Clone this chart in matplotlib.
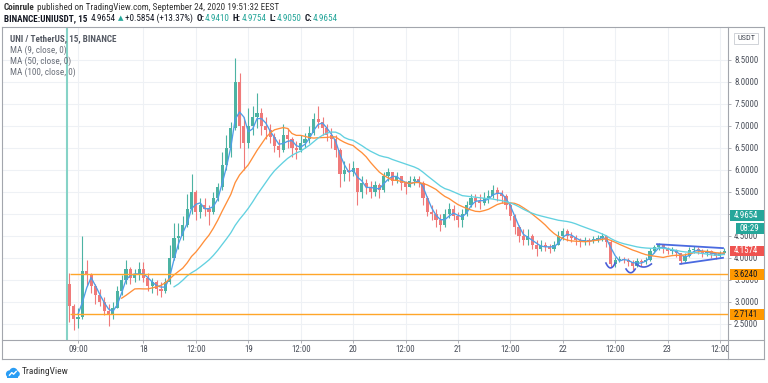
import matplotlib
matplotlib.use("Agg")
import matplotlib.pyplot as plt
import matplotlib.transforms as mtransforms
from matplotlib.patches import Rectangle, Circle
from matplotlib.lines import Line2D
from matplotlib import font_manager
import numpy as np
import pandas as pd

W, H = 768, 383
names = {f.name for f in font_manager.fontManager.ttflist}
narrow_candidates = ['Liberation Sans Narrow', 'Roboto Condensed', 'Open Sans Condensed',
                     'Arial Narrow', 'DejaVu Sans Condensed']
NARROW = next((n for n in narrow_candidates if n in names), None)
FONT = [NARROW, 'DejaVu Sans'] if NARROW else ['DejaVu Sans']
plt.rcParams['font.family'] = FONT
if not NARROW:
    plt.rcParams['font.stretch'] = 'condensed'
FS = 6.6 if NARROW else 5.7
FS_AX = 6.4 if NARROW else 5.4

# ---------------- data (hourly candles, hours since Sep 17 00:00) ----------------
start_hour = 7
first_open = 3.40
close = [
    # Sep 17
    2.90, 2.60, 2.65, 3.70, 3.60, 3.35, 3.15, 3.00, 2.80, 2.70, 2.85, 3.25, 3.50, 3.75, 3.55, 3.60, 3.75,
    # Sep 18
    3.55, 3.35, 3.45, 3.30, 3.25, 3.45, 4.00, 4.45, 4.50, 4.75, 5.10, 5.50, 5.05, 5.20, 5.10, 5.05,
    5.35, 5.60, 6.10, 6.50, 6.95, 8.00, 7.00, 6.60,
    # Sep 19
    7.00, 7.20, 7.30, 7.00, 6.90, 6.75, 6.55, 6.45, 6.80, 6.70, 6.50, 6.45, 6.60, 6.70, 6.85, 7.15,
    7.10, 6.95, 6.80, 6.70, 6.45, 5.90, 6.00, 5.95,
    # Sep 20
    6.05, 5.50, 5.70, 5.60, 5.50, 5.65, 5.55, 5.85, 5.95, 5.75, 5.85, 5.70, 5.60, 5.75, 5.80, 5.70,
    5.35, 5.05, 5.00, 4.85, 4.75, 5.00, 5.10, 4.95,
    # Sep 21
    4.85, 5.00, 5.20, 5.35, 5.30, 5.25, 5.35, 5.40, 5.55, 5.45, 5.40, 5.20, 4.95, 4.70, 4.50, 4.40,
    4.50, 4.30, 4.20, 4.30, 4.25, 4.20, 4.30, 4.50,
    # Sep 22
    4.60, 4.50, 4.45, 4.40, 4.35, 4.40, 4.38, 4.42, 4.45, 4.50, 4.35, 3.85, 3.95, 3.98, 3.95, 3.90,
    3.82, 3.92, 3.90, 3.95, 4.15, 4.25, 4.28, 4.20,
    # Sep 23
    4.15, 4.18, 4.10, 3.92, 4.05, 4.18, 4.20, 4.15, 4.10, 4.15, 4.08, 4.05, 4.10, 4.16,
]
high = [
    3.65, 2.95, 2.85, 4.50, 3.95, 3.65, 3.40, 3.30, 3.10, 2.95, 3.00, 3.35, 3.60, 3.95, 3.80, 3.75, 3.90,
    3.90, 3.65, 3.55, 3.50, 3.45, 3.55, 4.30, 4.80, 4.80, 4.95, 5.45, 5.90, 5.55, 5.35, 5.35, 5.20,
    5.50, 5.70, 6.40, 6.80, 7.10, 8.55, 8.20, 7.20,
    7.40, 7.45, 7.75, 7.40, 7.20, 7.05, 6.85, 6.70, 7.05, 6.95, 6.75, 6.65, 6.80, 6.85, 7.00, 7.30,
    7.45, 7.20, 7.05, 6.95, 6.80, 6.50, 6.20, 6.15,
    6.20, 6.05, 5.85, 5.80, 5.75, 5.75, 5.70, 5.95, 6.05, 5.95, 5.95, 5.85, 5.75, 5.85, 5.85, 5.85,
    5.75, 5.40, 5.20, 5.10, 5.00, 5.10, 5.25, 5.20,
    5.05, 5.10, 5.30, 5.45, 5.45, 5.45, 5.50, 5.55, 5.66, 5.60, 5.55, 5.45, 5.25, 5.00, 4.75, 4.65,
    4.65, 4.55, 4.40, 4.40, 4.35, 4.32, 4.38, 4.60,
    4.68, 4.65, 4.58, 4.52, 4.45, 4.48, 4.46, 4.50, 4.52, 4.56, 4.52, 4.40, 4.02, 4.05, 4.02, 4.00,
    3.95, 4.00, 3.98, 4.02, 4.22, 4.30, 4.34, 4.30,
    4.25, 4.24, 4.20, 4.12, 4.12, 4.25, 4.26, 4.24, 4.20, 4.20, 4.18, 4.12, 4.16, 4.22,
]
low = [
    2.55, 2.35, 2.40, 2.60, 3.35, 3.20, 2.95, 2.90, 2.70, 2.45, 2.60, 2.85, 3.15, 3.40, 3.40, 3.45, 3.50,
    3.45, 3.25, 3.20, 3.15, 3.10, 3.20, 3.40, 3.95, 4.20, 4.40, 4.70, 5.00, 4.85, 4.90, 4.95, 4.75,
    5.00, 5.30, 5.55, 6.00, 6.30, 6.90, 6.50, 6.00,
    6.50, 6.80, 6.95, 6.80, 6.70, 6.60, 6.40, 6.30, 6.40, 6.50, 6.30, 6.25, 6.40, 6.50, 6.60, 6.80,
    6.95, 6.80, 6.65, 6.50, 6.30, 5.60, 5.75, 5.75,
    5.85, 5.20, 5.35, 5.45, 5.35, 5.40, 5.35, 5.50, 5.75, 5.65, 5.70, 5.55, 5.45, 5.60, 5.65, 5.60,
    5.20, 4.95, 4.85, 4.70, 4.62, 4.70, 4.90, 4.85,
    4.70, 4.70, 4.95, 5.15, 5.15, 5.10, 5.20, 5.25, 5.35, 5.30, 5.25, 5.10, 4.85, 4.55, 4.35, 4.30,
    4.30, 4.20, 4.05, 4.15, 4.15, 4.12, 4.15, 4.28,
    4.40, 4.38, 4.35, 4.30, 4.25, 4.30, 4.30, 4.33, 4.35, 4.38, 4.25, 3.78, 3.80, 3.90, 3.88, 3.82,
    3.72, 3.80, 3.82, 3.85, 3.92, 4.10, 4.18, 4.12,
    4.08, 4.08, 4.02, 3.86, 3.90, 4.02, 4.10, 4.08, 4.02, 4.05, 4.00, 3.98, 4.02, 4.08,
]
# moving-average windows expressed in hourly bars (MA 9/50/100 of 15-minute bars)
ma_windows = [3, 13, 25]
ma_names = ["MA (9, close, 0)", "MA (50, close, 0)", "MA (100, close, 0)"]

time_ticks = [9, 24, 36, 48, 60, 72, 84, 96, 108, 120, 132, 144, 156]
time_labels = ["09:00", "18", "12:00", "19", "12:00", "20", "12:00", "21", "12:00", "22", "12:00", "23", "12:00"]
price_ticks = [2.5, 3.0, 3.5, 4.0, 4.5, 5.0, 5.5, 6.0, 6.5, 7.0, 7.5, 8.0, 8.5]
support_levels = [3.6240, 2.7141]
last_price = 4.9654
visible_close = 4.1574
listing_hour = 6.5
# drawings on the chart (hour, price)
triangle_upper = ([141.6, 156.7], [4.31, 4.22])
triangle_lower = ([146.9, 156.7], [3.86, 4.00])
arcs = [(129.9, 132.0, 3.88, 3.77), (134.5, 136.6, 3.745, 3.66), (136.8, 140.3, 3.86, 3.79)]

# ---------------- figure ----------------
UP, DOWN = "#4cb3a3", "#ef7a7a"
GRID = "#eef1f5"
FRAME = "#a3a6ad"
TXT = "#4a4f5a"

fig = plt.figure(figsize=(W / 100, H / 100), dpi=100)
fig.patch.set_facecolor("white")
renderer = fig.canvas.get_renderer()

def fx(x): return x / W
def fy(y): return 1 - y / H

L, R, T, B = 2, 728, 27, 340
ax = fig.add_axes([fx(L), fy(B), (R - L) / W, (B - T) / H])
ax.set_xlim(-8.4, 157.85)
ax.set_ylim(2.13, 9.25)
for s in ax.spines.values():
    s.set_visible(False)

ax.set_yticks(price_ticks)
ax.set_yticklabels([f"{p:.4f}" for p in price_ticks])
ax.yaxis.tick_right()
ax.set_xticks(time_ticks)
ax.set_xticklabels(time_labels)
ax.tick_params(axis="y", length=2.2, width=0.6, color=FRAME, labelsize=FS_AX, labelcolor=TXT, pad=2.2)
ax.tick_params(axis="x", length=2.2, width=0.6, color=FRAME, labelsize=FS_AX, labelcolor=TXT, pad=1.6)
ax.grid(True, color=GRID, lw=0.8, zorder=0)
ax.set_axisbelow(True)
clipbox = mtransforms.TransformedBbox(mtransforms.Bbox([[0, 0], [fx(R), 1]]), fig.transFigure)
for lbl in ax.get_xticklabels():
    lbl.set_clip_on(True)
    lbl.set_clip_box(clipbox)

times = np.arange(start_hour, start_hour + len(close))
opens = np.array([first_open] + close[:-1])
c = np.array(close)
up = c >= opens
cols = np.where(up, UP, DOWN)
ax.vlines(times, low, high, colors=cols, lw=0.8, zorder=2)
body = np.where(np.abs(c - opens) < 0.01, 0.01, c - opens)
ax.bar(times, body, bottom=opens, width=0.72, color=cols, lw=0, zorder=3)

s = pd.Series(close, index=times)
for w, col in zip(ma_windows, ["#4f9de8", "#ff8f3a", "#62d1e0"]):
    m = s.rolling(w).mean()
    ax.plot(m.index, m.values, color=col, lw=0.95, zorder=4)

ax.axvline(listing_hour, color="#86d3c7", lw=1.5, zorder=5)
ax.hlines(support_levels, 7.2, 157.85, color="#ffa629", lw=1.0, zorder=5)

ax.plot(*triangle_upper, color="#4a6ae0", lw=1.3, zorder=6)
ax.plot(*triangle_lower, color="#4a6ae0", lw=1.3, zorder=6)
for t0, t1, ptop, pbot in arcs:
    ts = np.linspace(t0, t1, 25)
    mid, half = (t0 + t1) / 2, (t1 - t0) / 2
    ax.plot(ts, pbot + (ptop - pbot) * ((ts - mid) / half) ** 2, color="#4a5fd8", lw=1.2, zorder=6)

# ---------------- frame ----------------
def fline(x0, y0, x1, y1, **kw):
    fig.add_artist(Line2D([fx(x0), fx(x1)], [fy(y0), fy(y1)], transform=fig.transFigure, **kw))

for seg in [(2, 27, 764, 27), (2, 359, 764, 359), (2, 27, 2, 359), (764, 27, 764, 359),
            (728, 27, 728, 359), (2, 340, 764, 340)]:
    fline(*seg, color=FRAME, lw=0.8)

# ---------------- price-axis boxes ----------------
bt = mtransforms.blended_transform_factory(fig.transFigure, ax.transData)
ppu = (B - T) / (ax.get_ylim()[1] - ax.get_ylim()[0])

def price_box(p, text, fc, tc, x0=730, dy_px=0.0):
    h = 10.5 / ppu
    pc = p - dy_px / ppu
    fig.add_artist(Rectangle((fx(x0), pc - h / 2), (764 - x0) / W, h, transform=bt,
                             facecolor=fc, edgecolor="none", clip_on=False, zorder=10))
    fig.text(fx(x0 + 4), pc, text, transform=bt, color=tc, fontsize=FS_AX, va="center", ha="left", zorder=11)

price_box(last_price, "4.9654", "#26a69a", "white")
price_box(last_price, "08:29", "#26a69a", "white", x0=736, dy_px=13)
price_box(visible_close, "4.1574", "#ef5350", "white")
for lvl in support_levels:
    price_box(lvl, f"{lvl:.4f}", "#ff9800", "#131722")

fig.add_artist(Rectangle((fx(734), fy(44)), 24 / W, 11 / H, transform=fig.transFigure,
                         facecolor="white", edgecolor="#c9ccd2", lw=0.6))
fig.text(fx(746), fy(38.5), "USDT", fontsize=FS_AX - 0.4, color=TXT, ha="center", va="center")

# ---------------- header ----------------
def ftext(x, y, s, **kw):
    kw.setdefault("fontsize", FS)
    kw.setdefault("color", "#333333")
    return fig.text(fx(x), fy(y), s, va="center", ha="left", **kw)

def run(x, y, pieces):
    """Lay text pieces left-to-right; each piece is (text, gap_after_px, kwargs)."""
    for txt, gap, kw in pieces:
        t = ftext(x, y, txt, **kw)
        bb = t.get_window_extent(renderer)
        x = bb.x1 + gap

GREEN = "#26a69a"
DARK = "#131722"
run(4, 7, [("Coinrule", 2.5, dict(fontweight="bold")),
           ("published on TradingView.com, September 24, 2020 19:51:32 EEST", 0, {})])
line2 = [("BINANCE:UNIUSDT, 15", 3.5, dict(fontweight="bold", color=DARK)),
         ("4.9654", 2, dict(color=DARK)),
         ("\u25B2", 2, dict(color=GREEN, fontsize=FS - 1.5, family=["DejaVu Sans"])),
         ("+0.5854 (+13.37%)", 3, dict(color=DARK))]
for lab, val in [("O:", "4.9410"), ("H:", "4.9754"), ("L:", "4.9050"), ("C:", "4.9654")]:
    line2.append((lab, 0.5, dict(fontweight="bold", color=DARK)))
    line2.append((val, 3, dict(color=GREEN)))
run(4, 18.5, line2)

# legend inside plot
ftext(10, 39, "UNI / TetherUS, 15, BINANCE", color="#555a64", fontweight="bold")
for i, nm in enumerate(ma_names):
    ftext(10, 50 + 11 * i, nm, color="#6b707a")

# ---------------- footer logo ----------------
lax = fig.add_axes([fx(5), fy(378), 15 / W, 11 / H])
lax.set_xlim(0, 15); lax.set_ylim(0, 11); lax.axis("off")
for (cx, cy, r) in [(4.5, 4.0, 3.6), (8.5, 6.0, 4.2), (11.8, 4.0, 3.0)]:
    lax.add_patch(Circle((cx, cy), r, color="#2a9df4", lw=0))
lax.add_patch(Rectangle((2.0, 0.4), 11.0, 3.0, color="#2a9df4", lw=0))
lax.plot([4.5, 6.8, 8.6, 11.2], [2.8, 5.4, 3.8, 6.6], color="white", lw=1.0)
ftext(22, 372, "TradingView", color="#333333", fontsize=FS + 0.2)

fig.savefig("out.png", dpi=100, facecolor="white")
